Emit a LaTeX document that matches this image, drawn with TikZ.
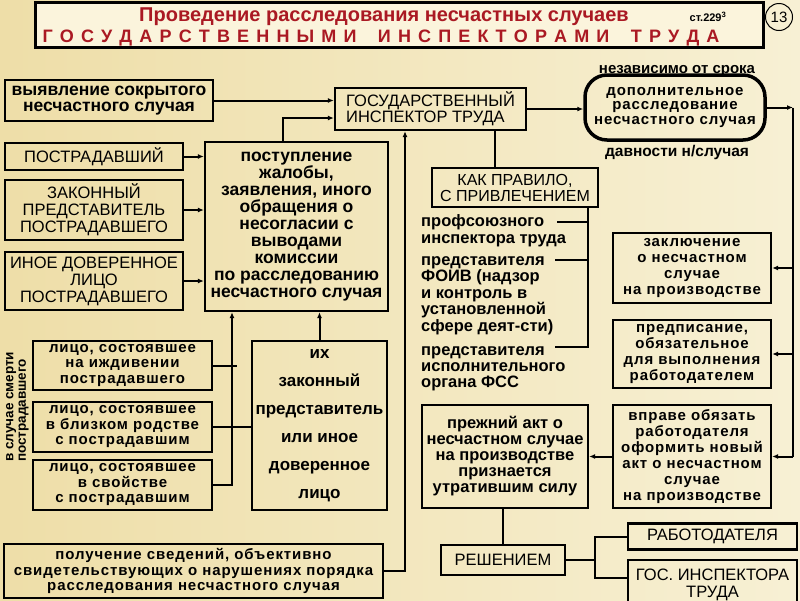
\documentclass[tikz,border=0pt]{standalone}
\usepackage{fontspec}
\setmainfont{Liberation Sans}
\newfontfamily\spacedsans[LetterSpace=6]{Liberation Sans}
\usetikzlibrary{arrows.meta}
\definecolor{bgA}{RGB}{238,222,168}
\definecolor{bgB}{RGB}{247,240,212}
\definecolor{ttl}{RGB}{170,25,35}
\definecolor{ttlbg}{RGB}{251,244,220}
\newcommand{\myfs}[2]{\fontsize{#1}{#2}\selectfont}
\begin{document}
\begin{tikzpicture}[x=1pt,y=-1pt,
  bx/.style={draw, line width=2.3pt, inner sep=0pt, align=center},
  ln/.style={line width=2pt},
  ar/.style={line width=2pt,-{Latex[length=6pt,width=5pt]}}]
\useasboundingbox (0,0) rectangle (800,600);
\shade[left color=bgA, right color=bgB] (0,0) rectangle (800,600);

% title
\node[draw, line width=3.5pt, fill=ttlbg, minimum width=728pt, minimum height=45pt] (ttlbox) at (399.5,25) {};
\node[font=\myfs{20}{20}\bfseries, text=ttl] (t1) at (384,17) {Проведение расследования несчастных случаев};
\node[font=\myfs{18}{18}\bfseries, text=ttl] (t2) at (381,38) {\makebox[677pt][s]{Г\hfil О\hfil С\hfil У\hfil Д\hfil А\hfil Р\hfil С\hfil Т\hfil В\hfil Е\hfil Н\hfil Н\hfil Ы\hfil М\hfil И\hfil\hfil\hfil И\hfil Н\hfil С\hfil П\hfil Е\hfil К\hfil Т\hfil О\hfil Р\hfil А\hfil М\hfil И\hfil\hfil\hfil Т\hfil Р\hfil У\hfil Д\hfil А}};
\node[font=\myfs{11}{11}\bfseries] (art) at (708,17) {ст.229\textsuperscript{3}};
\node[draw, circle, line width=1pt, minimum size=27pt, inner sep=0pt, font=\myfs{15}{15}] (num) at (779,17) {13};

% boxes
\node[bx, minimum width=208pt, minimum height=41pt, font=\myfs{17.5}{16.5}\bfseries] (b1) at (109,100.5) {выявление сокрытого\\несчастного случая};
\node[bx, minimum width=191pt, minimum height=42pt, align=left, font=\myfs{16.5}{16}] (git) at (430.5,109) {ГОСУДАРСТВЕННЫЙ\\ИНСПЕКТОР ТРУДА};
\node[draw, line width=3.5pt, rounded corners=22pt, minimum width=180pt, minimum height=65pt, inner sep=0pt, align=center, font=\spacedsans\myfs{15}{14.5}\bfseries] (rb) at (675,107.5) {дополнительное\\расследование\\несчастного случая};
\node[font=\myfs{15}{15}\bfseries] (nz) at (677,71) {независимо от срока};
\node[font=\myfs{15.5}{15.5}\bfseries] (dv) at (677,152) {давности н/случая};

\node[bx, minimum width=178pt, minimum height=27pt, font=\myfs{16.5}{17}] (b4) at (94,156.5) {ПОСТРАДАВШИЙ};
\node[bx, minimum width=178pt, minimum height=60pt, font=\myfs{16.5}{17}] (b5) at (94,210) {ЗАКОННЫЙ\\ПРЕДСТАВИТЕЛЬ\\ПОСТРАДАВШЕГО};
\node[bx, minimum width=178pt, minimum height=58pt, font=\myfs{16.5}{17}] (b6) at (94,281) {ИНОЕ ДОВЕРЕННОЕ\\ЛИЦО\\ПОСТРАДАВШЕГО};
\node[bx, minimum width=183pt, minimum height=169pt, font=\myfs{17.5}{17}\bfseries] (b7) at (296.5,226.5) {поступление\\жалобы,\\заявления, иного\\обращения о\\несогласии с\\выводами\\комиссии\\по расследованию\\несчастного случая};

\node[bx, minimum width=166pt, minimum height=39pt, font=\myfs{16}{16}] (kak) at (515,187.5) {КАК ПРАВИЛО,\\С ПРИВЛЕЧЕНИЕМ};
\node[anchor=west, align=left, inner sep=0pt, font=\myfs{16.5}{17}\bfseries] (l1) at (421,231) {профсоюзного\\инспектора труда};
\node[anchor=west, align=left, inner sep=0pt, font=\myfs{16.5}{16.5}\bfseries] (l2) at (421,295.5) {представителя\\ФОИВ (надзор\\и контроль в\\установленной\\сфере деят-сти)};
\node[anchor=west, align=left, inner sep=0pt, font=\myfs{16.5}{16}\bfseries] (l3) at (421,369) {представителя\\исполнительного\\органа ФСС};

\node[bx, minimum width=158pt, minimum height=70pt, font=\spacedsans\myfs{15}{16}\bfseries] (b10) at (692,268) {заключение\\о несчастном\\случае\\на производстве};
\node[bx, minimum width=158pt, minimum height=68pt, font=\spacedsans\myfs{15}{16}\bfseries] (b11) at (692,354) {предписание,\\обязательное\\для выполнения\\работодателем};
\node[bx, minimum width=158pt, minimum height=103pt, font=\spacedsans\myfs{15}{16}\bfseries] (b12) at (692,456.5) {вправе обязать\\работодателя\\оформить новый\\акт о несчастном\\случае\\на производстве};
\node[bx, minimum width=166pt, minimum height=103pt, font=\myfs{16.5}{16}\bfseries] (b13) at (505,456.5) {прежний акт о\\несчастном случае\\на производстве\\признается\\утратившим силу};
\node[bx, minimum width=124pt, minimum height=30pt, font=\myfs{16.5}{17}] (resh) at (503,560) {РЕШЕНИЕМ};
\node[bx, minimum width=169pt, minimum height=26pt, font=\myfs{16.5}{17}] (rab) at (712.5,536.5) {РАБОТОДАТЕЛЯ};
\node[bx, minimum width=169pt, minimum height=50pt, font=\myfs{16.5}{17}] (gos) at (712.5,585) {ГОС. ИНСПЕКТОРА\\ТРУДА};

\node[bx, minimum width=179pt, minimum height=49pt, font=\spacedsans\myfs{15}{15.5}\bfseries] (b17) at (122.5,365.5) {лицо, состоявшее\\на иждивении\\пострадавшего};
\node[bx, minimum width=179pt, minimum height=50pt, font=\spacedsans\myfs{15}{15.5}\bfseries] (b18) at (122.5,427) {лицо, состоявшее\\в близком родстве\\с пострадавшим};
\node[bx, minimum width=179pt, minimum height=50pt, font=\spacedsans\myfs{15}{15.5}\bfseries] (b19) at (122.5,485) {лицо, состоявшее\\в свойстве\\с пострадавшим};
\node[bx, minimum width=135pt, minimum height=169pt, font=\myfs{17}{28}\bfseries] (b20) at (319.5,425.5) {их\\законный\\представитель\\или иное\\доверенное\\лицо};
\node[bx, minimum width=379pt, minimum height=54pt, font=\spacedsans\myfs{15}{15.5}\bfseries] (b21) at (193.5,571) {получение сведений, объективно\\свидетельствующих о нарушениях порядка\\расследования несчастного случая};
\node[rotate=90, anchor=north west, align=left, inner sep=0pt, font=\myfs{13.5}{12.5}\bfseries] (dth) at (6,462) {в случае смерти\\пострадавшего};

% connectors
\draw[ar] (b1.east) -- (b1.east -| git.west);
\draw[ar] ([xshift=-13.5pt]b7.north) |- ([yshift=-9pt]git.west);
\draw[ar] (b4.east) -- (b4.east -| b7.west);
\draw[ar] (b5.east) -- (b5.east -| b7.west);
\draw[ar] (b6.east) -- (b6.east -| b7.west);
\draw[ar] (b19.east) -| ([xshift=-64.5pt]b7.south);
\draw[ln] (b17.east) -- ++(24,0);
\draw[ln] (b18.east) -- (b18.east -| b20.west);
\draw[ar] (b20.north) -- (b20.north |- b7.south);
\draw[ar] (b21.east) -| ([xshift=-25.5pt]git.south);
\draw[ln] ([xshift=-20pt]kak.north) -- ([xshift=-20pt]kak.north |- git.south);
\draw[ar] (git.east) -- (git.east -| rb.west);
\coordinate (rr) at (793,107.5);
\draw[ar] (rb.east) -- (rr);
\draw[ln] (rr) -- (rr |- b12.east);
\draw[ar] (rr |- b10.east) -- (b10.east);
\draw[ar] (rr |- b11.east) -- (b11.east);
\draw[ar] (rr |- b12.east) -- (b12.east);
\draw[ar] (b12.west) -- (b12.west -| b13.east);
\draw[ln] (resh.north) -- (resh.north |- b13.south);
\coordinate (fork) at (595,560);
\draw[ln] (resh.east) -- (fork);
\draw[ln] (rab.west) -| (fork) |- ([yshift=7pt]gos.west);
\coordinate (kv) at ([xshift=73pt]kak.south);
\coordinate (k1) at (557,222);
\coordinate (k2) at (555,260);
\coordinate (k3) at (555,347);
\draw[ln] (kv) |- (k3);
\draw[ln] (k1) -- (k1 -| kv);
\draw[ln] (k2) -- (k2 -| kv);
\end{tikzpicture}
\end{document}
